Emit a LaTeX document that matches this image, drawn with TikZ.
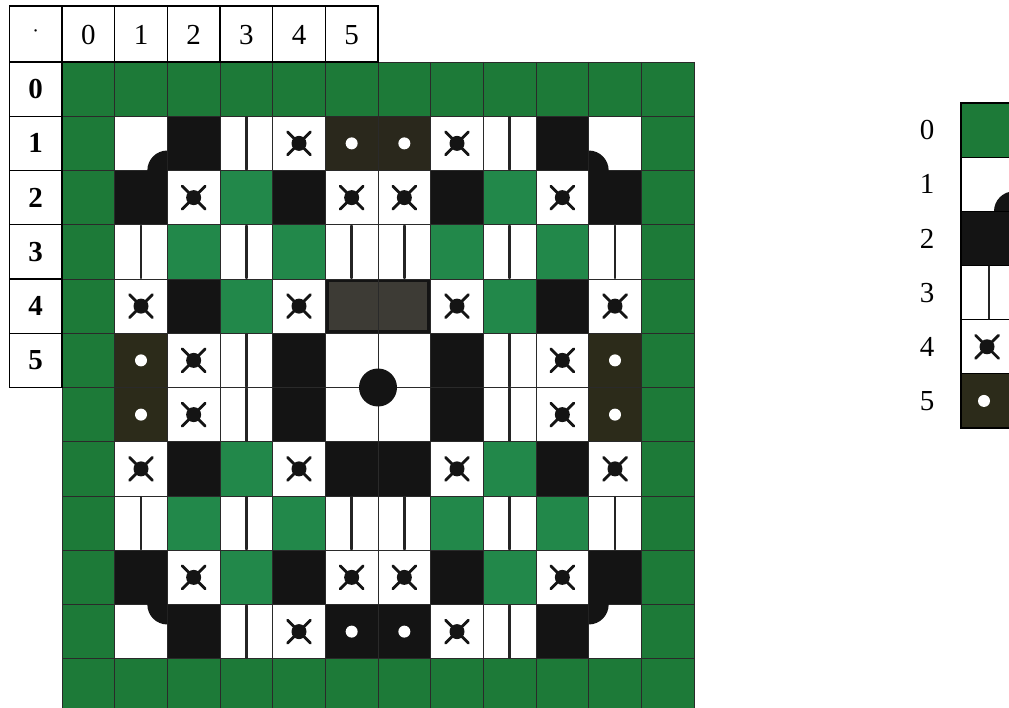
\documentclass[tikz,border=0pt]{standalone}
\usepackage{fontspec}
\setmainfont{Liberation Serif}
\usetikzlibrary{calc}
\definecolor{gborder}{HTML}{1D7A38}
\definecolor{ginner}{HTML}{22884A}
\definecolor{ink}{HTML}{141414}
\definecolor{darkdot}{HTML}{2A281C}
\definecolor{darkolive}{HTML}{2C2B1A}
\definecolor{graycell}{HTML}{3D3B35}
\definecolor{gridc}{HTML}{2A2A2A}
\newcommand\CW{52.667}
\newcommand\CH{54.25}
\newcommand\GX{62}
\newcommand\GY{62}
% fill a main-grid cell
\newcommand\cellfill[3]{\fill[#3] ({\GX+#2*\CW},{\GY+#1*\CH}) rectangle ({\GX+(#2+1)*\CW},{\GY+(#1+1)*\CH});}
% X symbol with dot at (x,y)
\newcommand\xsymat[2]{%
  \fill[ink] (#1,#2) circle (7.5pt);
  \draw[xstroke] (#1-4,#2-4) -- (#1-11.5,#2-11.5);
  \draw[xstroke] (#1+4,#2-4) -- (#1+11.5,#2-11.5);
  \draw[xstroke] (#1-4,#2+4) -- (#1-11.5,#2+11.5);
  \draw[xstroke] (#1+4,#2+4) -- (#1+11.5,#2+11.5);}
\newcommand\xsym[2]{\pgfmathsetmacro\cx{\GX+(#2+0.5)*\CW}\pgfmathsetmacro\cy{\GY+(#1+0.5)*\CH}\xsymat{\cx}{\cy}}
\newcommand\vstroke[2]{\pgfmathsetmacro\cx{\GX+(#2+0.5)*\CW}\pgfmathsetmacro\cy{\GY+#1*\CH}%
  \draw[vstr] (\cx,\cy+1) -- (\cx,\cy+\CH-1);}
\newcommand\wdot[2]{\pgfmathsetmacro\cx{\GX+(#2+0.5)*\CW}\pgfmathsetmacro\cy{\GY+(#1+0.5)*\CH}%
  \fill[white] (\cx,\cy) circle (6pt);}
\tikzset{
  xstroke/.style={ink, line width=2.8pt, line cap=round},
  vstr/.style={ink!85!gray, line width=2.5pt, line cap=round},
  gridline/.style={gridc, line width=0.9pt},
  tbl/.style={black, line width=1.1pt},
  toplab/.style={font=\fontsize{29}{29}\selectfont, inner sep=0pt},
  sidelab/.style={font=\fontsize{29}{29}\selectfont\bfseries, inner sep=0pt},
}
\begin{document}
\begin{tikzpicture}[x=1pt,y=-1pt]
\useasboundingbox (0,0) rectangle (1009,708);
\clip (0,0) rectangle (1009,708);
\fill[white] (0,0) rectangle (1009,708);

% ---------- main grid: green border ----------
\fill[gborder] (62,62) rectangle (694,713.1);
\fill[white] ({\GX+\CW},{\GY+\CH}) rectangle ({\GX+11*\CW},{\GY+11*\CH});

% inner green cells
\foreach \r/\c in {2/3,2/8,3/2,3/4,3/7,3/9,4/3,4/8,7/3,7/8,8/2,8/4,8/7,8/9,9/3,9/8}
  {\cellfill{\r}{\c}{ginner}}
% black cells
\foreach \r/\c in {1/2,1/9,2/1,2/4,2/7,2/10,4/2,4/9,5/4,5/7,6/4,6/7,7/2,7/5,7/6,7/9,9/1,9/4,9/7,9/10,10/2,10/5,10/6,10/9}
  {\cellfill{\r}{\c}{ink}}
% dark cells with dots
\foreach \r/\c in {1/5,1/6}{\cellfill{\r}{\c}{darkdot}}
\foreach \r/\c in {5/1,6/1,5/10,6/10}{\cellfill{\r}{\c}{darkolive}}
% grey pair with black border
\fill[graycell] ({\GX+5*\CW},{\GY+4*\CH}) rectangle ({\GX+7*\CW},{\GY+5*\CH});
\draw[ink, line width=3.5pt] ({\GX+5*\CW+1.5},{\GY+4*\CH+1.5}) rectangle ({\GX+7*\CW-1.5},{\GY+5*\CH-1.5});

% grid lines
\foreach \k in {0,...,12}{
  \draw[gridline] ({\GX+\k*\CW},62) -- ({\GX+\k*\CW},713);
  \draw[gridline] (62,{\GY+\k*\CH}) -- (694,{\GY+\k*\CH});
}

% white dots
\foreach \r/\c in {1/5,1/6,5/1,6/1,5/10,6/10,10/5,10/6}{\wdot{\r}{\c}}
% vertical strokes
\foreach \r/\c in {1/3,1/8,3/1,3/3,3/5,3/6,3/8,3/10,5/3,5/8,6/3,6/8,8/1,8/3,8/5,8/6,8/8,8/10,10/3,10/8}
  {\vstroke{\r}{\c}}
% X symbols
\foreach \r/\c in {1/4,1/7,2/2,2/5,2/6,2/9,4/1,4/4,4/7,4/10,5/2,5/9,6/2,6/9,7/1,7/4,7/7,7/10,9/2,9/5,9/6,9/9,10/4,10/7}
  {\xsym{\r}{\c}}

% corner bumps
\begin{scope}
  \clip ({\GX+\CW},{\GY+\CH}) rectangle ({\GX+2*\CW},{\GY+2*\CH});
  \fill[ink] ({\GX+2*\CW},{\GY+2*\CH}) circle (20pt);
\end{scope}
\begin{scope}
  \clip ({\GX+10*\CW},{\GY+\CH}) rectangle ({\GX+11*\CW},{\GY+2*\CH});
  \fill[ink] ({\GX+10*\CW},{\GY+2*\CH}) circle (20pt);
\end{scope}
\begin{scope}
  \clip ({\GX+\CW},{\GY+10*\CH}) rectangle ({\GX+2*\CW},{\GY+11*\CH});
  \fill[ink] ({\GX+2*\CW},{\GY+10*\CH}) circle (20pt);
\end{scope}
\begin{scope}
  \clip ({\GX+10*\CW},{\GY+10*\CH}) rectangle ({\GX+11*\CW},{\GY+11*\CH});
  \fill[ink] ({\GX+10*\CW},{\GY+10*\CH}) circle (20pt);
\end{scope}
% central disc
\fill[ink] ({\GX+6*\CW},{\GY+6*\CH}) circle (19pt);

% ---------- header table ----------
\draw[tbl] ({\GX-\CW},6) rectangle ({\GX+6*\CW},62);
\foreach \k in {0,...,5}{\draw[tbl] ({\GX+\k*\CW},6) -- ({\GX+\k*\CW},62);}
\draw[tbl] ({\GX-\CW},62) rectangle (62,{\GY+6*\CH});
\foreach \k in {1,...,5}{\draw[tbl] ({\GX-\CW},{\GY+\k*\CH}) -- (62,{\GY+\k*\CH});}
\node[toplab, font=\fontsize{20}{20}\selectfont] (hdot) at ({\GX-0.5*\CW},34) {·};
\foreach \k in {0,...,5}{
  \node[toplab] (h\k) at ({\GX+(\k+0.5)*\CW},35) {\k};
  \node[sidelab] (s\k) at ({\GX-0.5*\CW},{\GY+(\k+0.5)*\CH}) {\k};
}

% ---------- right partial table ----------
\def\RX{961}\def\RY{103}\def\RH{54.17}
\fill[gborder] (\RX,\RY) rectangle (1014,{\RY+\RH});
\fill[ink] (\RX,{\RY+2*\RH}) rectangle (1014,{\RY+3*\RH});
\fill[darkolive] (\RX,{\RY+5*\RH}) rectangle (1014,{\RY+6*\RH});
\begin{scope}
  \clip (\RX,{\RY+\RH}) rectangle (1014,{\RY+2*\RH});
  \fill[ink] (1014,{\RY+2*\RH}) circle (20pt);
\end{scope}
\draw[tbl] (\RX,\RY) rectangle (1014,{\RY+6*\RH});
\foreach \k in {1,...,5}{\draw[tbl] (\RX,{\RY+\k*\RH}) -- (1014,{\RY+\k*\RH});}
\draw[vstr] (989,{\RY+3*\RH+1}) -- (989,{\RY+4*\RH-1});
\xsymat{987}{\RY+4.5*\RH}
\fill[white] (984,{\RY+5.5*\RH}) circle (6pt);
\foreach \k in {0,...,5}{
  \node[toplab] (r\k) at (927,{\RY+(\k+0.5)*\RH}) {\k};
}
\end{tikzpicture}
\end{document}
